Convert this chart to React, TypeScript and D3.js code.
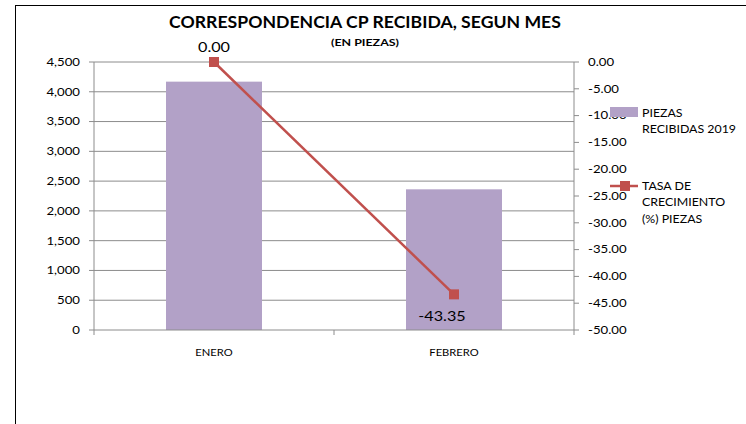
import React from "react";
import * as d3 from "d3";

const months = ["ENERO", "FEBRERO"];
const piezasRecibidas = [4170, 2362];
const tasaCrecimiento = [0.0, -43.35];
const leftTicks = [0, 500, 1000, 1500, 2000, 2500, 3000, 3500, 4000, 4500];
const rightTicks = [0, -5, -10, -15, -20, -25, -30, -35, -40, -45, -50];

const W = 746;
const H = 424;
const plot = { left: 94, right: 574, top: 62, bottom: 330 };
const font = "Lato, 'Open Sans', sans-serif";
const barColor = "#B2A1C7";
const lineColor = "#C0504D";
const gridColor = "#8C8C8C";

const fmt2 = (v: number) => d3.format(".2f")(v).replace("\u2212", "-");

// text stretched a little wider, like the original rendering
const T: React.FC<{
  x: number;
  y: number;
  size: number;
  sx?: number;
  anchor?: "start" | "middle" | "end";
  bold?: boolean;
  children: React.ReactNode;
}> = ({ x, y, size, sx = 1.2, anchor = "start", bold, children }) => (
  <text
    transform={`translate(${x},${y}) scale(${sx},1)`}
    dy="0.35em"
    textAnchor={anchor}
    fontSize={size}
    fontWeight={bold ? "bold" : "normal"}
    fill="#000"
  >
    {children}
  </text>
);

const App: React.FC = () => {
  const x = d3.scaleBand<string>().domain(months).range([plot.left, plot.right]).padding(0);
  const yLeft = d3.scaleLinear().domain([0, 4500]).range([plot.bottom, plot.top]);
  const yRight = d3.scaleLinear().domain([-50, 0]).range([plot.bottom, plot.top]);
  const barW = x.bandwidth() * 0.4;
  const cx = (m: string) => (x(m) ?? 0) + x.bandwidth() / 2;

  const line = d3
    .line<number>()
    .x((_, i) => cx(months[i]))
    .y((d) => yRight(d));

  const catTicks = [plot.left, ...months.map((m) => (x(m) ?? 0) + x.bandwidth())];

  return (
    <svg
      width={W}
      height={H}
      style={{ position: "absolute", left: 0, top: 0, background: "#fff" }}
      fontFamily={font}
    >
      <rect x={15.5} y={5.5} width={800} height={500} fill="#fff" stroke="#000" strokeWidth={1} />

      {/* title */}
      <T x={365} y={22} size={16.5} sx={1.07} anchor="middle" bold>
        CORRESPONDENCIA CP RECIBIDA, SEGUN MES
      </T>
      <T x={365} y={43} size={9.7} sx={1.28} anchor="middle" bold>
        (EN PIEZAS)
      </T>

      {/* gridlines */}
      {leftTicks.slice(1).map((t) => (
        <line key={t} x1={plot.left} x2={plot.right} y1={yLeft(t)} y2={yLeft(t)} stroke={gridColor} strokeWidth={1} />
      ))}

      {/* bars */}
      {months.map((m, i) => (
        <rect
          key={m}
          x={cx(m) - barW / 2}
          y={yLeft(piezasRecibidas[i])}
          width={barW}
          height={plot.bottom - yLeft(piezasRecibidas[i])}
          fill={barColor}
        />
      ))}

      {/* left axis */}
      <line x1={plot.left} x2={plot.left} y1={plot.top} y2={plot.bottom} stroke={gridColor} />
      {leftTicks.map((t) => (
        <g key={t}>
          <line x1={plot.left - 5} x2={plot.left} y1={yLeft(t)} y2={yLeft(t)} stroke={gridColor} />
          <T x={80} y={yLeft(t)} size={11} anchor="end">
            {d3.format(",")(t)}
          </T>
        </g>
      ))}

      {/* right axis */}
      <line x1={plot.right} x2={plot.right} y1={plot.top} y2={plot.bottom} stroke={gridColor} />
      {rightTicks.map((t) => (
        <g key={t}>
          <line x1={plot.right} x2={plot.right + 5} y1={yRight(t)} y2={yRight(t)} stroke={gridColor} />
          <T x={588} y={yRight(t)} size={11}>
            {fmt2(t)}
          </T>
        </g>
      ))}

      {/* category axis */}
      <line x1={plot.left} x2={plot.right} y1={plot.bottom} y2={plot.bottom} stroke={gridColor} />
      {catTicks.map((t) => (
        <line key={t} x1={t} x2={t} y1={plot.bottom} y2={plot.bottom + 5} stroke={gridColor} />
      ))}
      {months.map((m) => (
        <T key={m} x={cx(m)} y={plot.bottom + 22} size={10} sx={1.12} anchor="middle">
          {m}
        </T>
      ))}

      {/* growth line */}
      <path d={line(tasaCrecimiento) ?? ""} fill="none" stroke={lineColor} strokeWidth={2.5} />
      {tasaCrecimiento.map((v, i) => (
        <rect key={i} x={cx(months[i]) - 5} y={yRight(v) - 5} width={10} height={10} fill={lineColor} />
      ))}
      <T x={cx(months[0])} y={yRight(tasaCrecimiento[0]) - 15} size={13.5} anchor="middle">
        {fmt2(tasaCrecimiento[0])}
      </T>
      <T x={cx(months[1]) - 12} y={yRight(tasaCrecimiento[1]) + 22} size={13.5} anchor="middle">
        {fmt2(tasaCrecimiento[1])}
      </T>

      {/* legend */}
      <rect x={610} y={107} width={28} height={10} fill={barColor} />
      <T x={642} y={113} size={10.5} sx={1.18}>PIEZAS</T>
      <T x={642} y={129} size={10.5} sx={1.18}>RECIBIDAS 2019</T>

      <line x1={610} x2={638} y1={186} y2={186} stroke={lineColor} strokeWidth={2.5} />
      <rect x={620} y={181} width={10} height={10} fill={lineColor} />
      <T x={642} y={186} size={10.5} sx={1.18}>TASA DE</T>
      <T x={642} y={202} size={10.5} sx={1.18}>CRECIMIENTO</T>
      <T x={642} y={219} size={10.5} sx={1.18}>(%) PIEZAS</T>
    </svg>
  );
};

export default App;
